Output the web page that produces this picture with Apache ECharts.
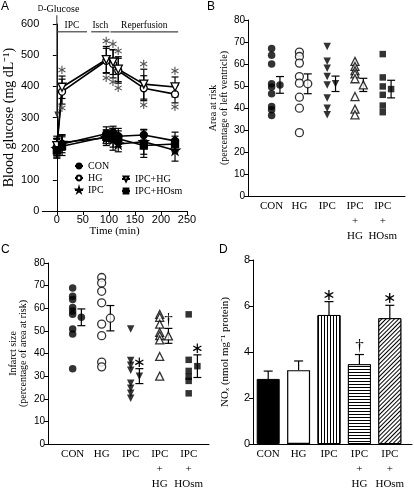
<!DOCTYPE html>
<html><head><meta charset="utf-8">
<script src="https://cdn.jsdelivr.net/npm/echarts@6/dist/echarts.min.js"></script>
<style>html,body{margin:0;padding:0;background:#fff}#c{width:414px;height:492px}</style>
</head><body><div id="c"></div>
<script>
// ---------- Panel A: blood glucose time course ----------
const timesA = [0, 10, 95, 108, 118, 167, 227];
const conA = [205, 215, 248, 252, 240, 244, 225];
const conErrA = [28, 28, 22, 20, 25, 16, 28];
const hgA = [205, 383, 482, 472, 450, 394, 375];
const hgErrA = [28, 40, 40, 45, 40, 40, 28];
const ipcA = [200, 220, 235, 230, 215, 222, 195];
const ipcErrA = [30, 25, 25, 35, 25, 40, 35];
const ipchgA = [210, 397, 486, 478, 455, 407, 398];
const ipchgErrA = [30, 36, 42, 40, 40, 48, 32];
const ipchosmA = [195, 208, 238, 235, 232, 210, 215];
const ipchosmErrA = [25, 30, 22, 30, 25, 38, 25];
const sigA = [false, true, true, true, true, true, true];
const phaseNames = ['IPC', 'Isch', 'Reperfusion'];
const phaseStart = [0, 66, 103];
const phaseEnd = [58, 101, 233];
const phaseLevel = 575;
const glucoseTime = 0;
const glucoseArrow = [628, 300];
const xTicksA = [0, 50, 100, 150, 200, 250];

// ---------- shared categories ----------
const groupNames = ['CON', 'HG', 'IPC', 'IPC+HG', 'IPC+HOsm'];
const catLabels = ['CON', 'HG', 'IPC', 'IPC\n+\nHG', 'IPC\n+\nHOsm'];

// ---------- Panel B: area at risk ----------
const aarCON = [67, 64, 60, 51, 49.5, 46.5, 40.7, 39.2, 36.6];
const aarHG = [65.4, 63.4, 60.4, 54.3, 51.3, 44.9, 39.9, 28.8];
const aarIPC = [68, 61.2, 58.1, 54.3, 50.5, 44.5, 39.9, 36.9];
const aarIPCHG = [61.2, 58.9, 57, 55.5, 53.3, 45.2, 39.5, 36.9];
const aarIPCHOsm = [64.5, 53.9, 49.8, 46, 41.1, 38.1];
const aarMean = [50.5, 51, 51, 50.5, 48.6];
const aarSem = [3.8, 4.5, 3.5, 3, 4];

// ---------- Panel C: infarct size ----------
const isCON = [69, 65.3, 63.9, 60.3, 58.8, 57.3, 50.8, 48.6, 33.3];
const isHG = [73.6, 71.2, 67.5, 62.4, 53, 47.9, 36.2, 34.1];
const isIPC = [50.8, 36.9, 34.8, 32.6, 26.8, 24.6, 22.4, 20.2];
const isIPCHG = [57.3, 56, 53, 49.3, 47.9, 46, 38.7, 30];
const isIPCHOsm = [57.3, 37.2, 32.3, 29.7, 27.9, 22.4];
const isMean = [56, 55.6, 30, 47.8, 34.4];
const isSem = [3.7, 5.6, 3.3, 3.3, 5];
const sigC = ['', '', '*', '†', '*'];

// ---------- Panel D: NOx ----------
const noxMean = [2.83, 3.21, 5.61, 3.47, 5.47];
const noxSem = [0.34, 0.4, 0.58, 0.42, 0.56];
const sigD = ['', '', '*', '†', '*'];

// ---------- styling ----------
const SERIF = '"Liberation Serif", "Times New Roman", serif';
const SANS = '"Liberation Sans", Arial, sans-serif';
const BLK = '#000';
const STAR = 'path://M50,0 L61,35 L98,35 L68,57 L79,91 L50,70 L21,91 L32,57 L2,35 L39,35 Z';
const groupSym = [
  {symbol: 'circle', rot: 0, fill: BLK},
  {symbol: 'circle', rot: 0, fill: '#fff'},
  {symbol: 'triangle', rot: 180, fill: BLK},
  {symbol: 'triangle', rot: 0, fill: '#fff'},
  {symbol: 'rect', rot: 0, fill: BLK}
];
const indPos = i => i + 0.85;
const meanPos = i => i + 1.15;
const barPos = i => i + 0.5;

function errRender(cap, upOnly) {
  return function (params, api) {
    const x = api.value(0), y = api.value(1), e = api.value(2);
    const top = api.coord([x, y + e]);
    const bot = api.coord(upOnly ? [x, y] : [x, y - e]);
    const st = {stroke: BLK, lineWidth: 1.2};
    const ch = [
      {type: 'line', shape: {x1: top[0], y1: top[1], x2: bot[0], y2: bot[1]}, style: st},
      {type: 'line', shape: {x1: top[0] - cap, y1: top[1], x2: top[0] + cap, y2: top[1]}, style: st}
    ];
    if (!upOnly) ch.push({type: 'line', shape: {x1: bot[0] - cap, y1: bot[1], x2: bot[0] + cap, y2: bot[1]}, style: st});
    return {type: 'group', children: ch};
  };
}
function markRenderFactory(color, size, gap) {
  return function (params, api) {
    const p = api.coord([api.value(0), api.value(1)]);
    const dir = api.value(2);
    const sym = api.value(3);
    const isDag = sym === '†';
    return {type: 'text', x: p[0], y: p[1] + dir * (isDag ? 8 : gap), style: {
      text: isDag ? '†' : '∗', fill: color,
      fontFamily: isDag ? SERIF : '"DejaVu Sans", sans-serif',
      fontSize: isDag ? 17 : size, fontWeight: 'normal',
      align: 'center', verticalAlign: 'middle'
    }};
  };
}

const axisLineS = {show: true, lineStyle: {color: BLK, width: 1}};
const tickS = {show: true, length: 4, inside: false, lineStyle: {color: BLK, width: 1}};
const tickLab = {color: BLK, fontFamily: SANS, fontSize: 10, margin: 3};
function yAx(gi, max, interval, name, gap, size, lh, labSize) {
  return {type: 'value', gridIndex: gi, min: 0, max: max, interval: interval,
    axisLine: axisLineS, axisTick: tickS, splitLine: {show: false}, axisLabel: Object.assign({}, tickLab, {fontSize: labSize}),
    name: name, nameLocation: 'middle', nameGap: gap,
    nameTextStyle: {fontFamily: SERIF, fontSize: size, color: BLK, lineHeight: lh}};
}
function catXAx(gi, max, posFn) {
  const vals = groupNames.map((_, i) => posFn(i));
  return {type: 'value', gridIndex: gi, min: 0, max: max,
    axisLine: axisLineS, axisTick: {show: false}, splitLine: {show: false},
    axisLabel: {customValues: vals, color: BLK, fontFamily: SERIF, fontSize: 11, lineHeight: 15, margin: 3,
      formatter: v => { const k = vals.findIndex(u => Math.abs(u - v) < 1e-6); return k >= 0 ? catLabels[k] : ''; }}};
}

// ---------- Panel A series ----------
const aGroups = [
  {name: 'CON', v: conA, e: conErrA, sym: 'circle', rot: 0, fill: BLK, size: 7},
  {name: 'HG', v: hgA, e: hgErrA, sym: 'circle', rot: 0, fill: '#fff', size: 7},
  {name: 'IPC', v: ipcA, e: ipcErrA, sym: STAR, rot: 0, fill: BLK, size: 9},
  {name: 'IPC+HG', v: ipchgA, e: ipchgErrA, sym: 'triangle', rot: 180, fill: '#fff', size: 8},
  {name: 'IPC+HOsm', v: ipchosmA, e: ipchosmErrA, sym: 'rect', rot: 0, fill: BLK, size: 7}
];
const series = [];
const errA = [];
aGroups.forEach(g => timesA.forEach((t, i) => errA.push([t, g.v[i], g.e[i]])));
series.push({type: 'custom', xAxisIndex: 0, yAxisIndex: 0, renderItem: errRender(3.5, false), data: errA, z: 1, encode: {x: 0, y: 1}});
aGroups.forEach(g => {
  series.push({type: 'line', name: g.name, xAxisIndex: 0, yAxisIndex: 0, z: 3,
    data: timesA.map((t, i) => [t, g.v[i]]), symbol: g.sym, symbolRotate: g.rot, symbolSize: g.size, showSymbol: true,
    lineStyle: {color: BLK, width: 1.6}, itemStyle: {color: g.fill, borderColor: BLK, borderWidth: 1.3}});
});
const marksA = [];
timesA.forEach((t, i) => {
  if (!sigA[i]) return;
  marksA.push([t, ipchgA[i] + ipchgErrA[i], -1, '*']);
  marksA.push([t, hgA[i] - hgErrA[i], 1, '*']);
});
series.push({type: 'custom', xAxisIndex: 0, yAxisIndex: 0, renderItem: markRenderFactory('#555', 13, 5), data: marksA, z: 4, encode: {x: 0, y: 1}});
// phases and glucose arrow
series.push({type: 'custom', xAxisIndex: 0, yAxisIndex: 0, z: 4, encode: {x: 0, y: 2},
  data: phaseNames.map((n, i) => [phaseStart[i], phaseEnd[i], phaseLevel, i]),
  renderItem: (params, api) => {
    const a = api.coord([api.value(0), api.value(2)]);
    const b = api.coord([api.value(1), api.value(2)]);
    return {type: 'group', children: [
      {type: 'line', shape: {x1: a[0], y1: a[1], x2: b[0], y2: b[1]}, style: {stroke: '#444', lineWidth: 1.2}},
      {type: 'text', x: (a[0] + b[0]) / 2, y: a[1] - 1, style: {text: phaseNames[api.value(3)], fill: BLK, fontFamily: SERIF, fontSize: 9.5, align: 'center', verticalAlign: 'bottom'}}
    ]};
  }});
series.push({type: 'custom', xAxisIndex: 0, yAxisIndex: 0, z: 4, encode: {x: 0, y: 1},
  data: [[glucoseTime, glucoseArrow[0], glucoseArrow[1]]],
  renderItem: (params, api) => {
    const a = api.coord([api.value(0), api.value(1)]);
    const b = api.coord([api.value(0), api.value(2)]);
    return {type: 'group', children: [
      {type: 'line', shape: {x1: a[0], y1: a[1], x2: b[0], y2: b[1] - 5}, style: {stroke: '#333', lineWidth: 1}},
      {type: 'polygon', shape: {points: [[b[0] - 2.5, b[1] - 6], [b[0] + 2.5, b[1] - 6], [b[0], b[1]]]}, style: {fill: '#333'}},
      {type: 'text', x: a[0] - 19, y: a[1] - 1, style: {rich: {s: {fontSize: 7.5, fontFamily: SERIF, fill: BLK}, n: {fontSize: 10, fontFamily: SERIF, fill: BLK}}, text: '{s|D}{n|-Glucose}', align: 'left', verticalAlign: 'bottom'}}
    ]};
  }});

// ---------- Panels B and C ----------
function dotPanel(ax, groups, means, sems, sigs) {
  groups.forEach((vals, g) => {
    const s = groupSym[g];
    const sz = g === 4 ? 6.5 : (g === 1 || g === 3 ? 8 : 7.5);
    const st = {color: s.fill, borderColor: BLK, borderWidth: s.fill === '#fff' ? 1.3 : 0};
    series.push({type: 'scatter', xAxisIndex: ax, yAxisIndex: ax, symbol: s.symbol, symbolRotate: s.rot, symbolSize: sz, itemStyle: st, z: 3,
      data: vals.map(v => [indPos(g), v])});
    series.push({type: 'scatter', xAxisIndex: ax, yAxisIndex: ax, symbol: s.symbol, symbolRotate: s.rot, symbolSize: sz, itemStyle: st, z: 3,
      data: [[meanPos(g), means[g]]]});
  });
  series.push({type: 'custom', xAxisIndex: ax, yAxisIndex: ax, renderItem: errRender(4, false), z: 2, encode: {x: 0, y: 1},
    data: means.map((m, g) => [meanPos(g), m, sems[g]])});
  if (sigs) {
    const mk = [];
    sigs.forEach((s, g) => { if (s) mk.push([meanPos(g), means[g] + sems[g], -1, s]); });
    series.push({type: 'custom', xAxisIndex: ax, yAxisIndex: ax, renderItem: markRenderFactory(BLK, 15, 6), z: 4, encode: {x: 0, y: 1}, data: mk});
  }
}
dotPanel(1, [aarCON, aarHG, aarIPC, aarIPCHG, aarIPCHOsm], aarMean, aarSem, null);
dotPanel(2, [isCON, isHG, isIPC, isIPCHG, isIPCHOsm], isMean, isSem, sigC);

// ---------- Panel D ----------
const vStripe = {symbol: 'rect', symbolSize: 1, color: BLK, backgroundColor: '#fff', dashArrayX: [1, 2], dashArrayY: [4, 0], rotation: 0};
const barStyles = [
  {color: BLK, borderColor: BLK, borderWidth: 1},
  {color: '#fff', borderColor: BLK, borderWidth: 1.2},
  {color: '#fff', borderColor: BLK, borderWidth: 1, decal: Object.assign({}, vStripe)},
  {color: '#fff', borderColor: BLK, borderWidth: 1, decal: {symbol: 'rect', symbolSize: 1, color: BLK, backgroundColor: '#fff', dashArrayX: [4, 0], dashArrayY: [1, 2], rotation: 0}},
  {color: '#fff', borderColor: BLK, borderWidth: 1, decal: Object.assign({}, vStripe, {rotation: Math.PI / 4})}
];
series.push({type: 'custom', xAxisIndex: 3, yAxisIndex: 3, renderItem: errRender(4.5, true), z: 1, encode: {x: 0, y: 1},
  data: noxMean.map((m, g) => [barPos(g), m, noxSem[g]])});
series.push({type: 'bar', xAxisIndex: 3, yAxisIndex: 3, barWidth: 23, z: 2,
  data: noxMean.map((m, g) => ({value: [barPos(g), m], itemStyle: barStyles[g]}))});
const mkD = [];
sigD.forEach((s, g) => { if (s) mkD.push([barPos(g), noxMean[g] + noxSem[g], -1, s]); });
series.push({type: 'custom', xAxisIndex: 3, yAxisIndex: 3, renderItem: markRenderFactory(BLK, 16, 6), z: 4, encode: {x: 0, y: 1}, data: mkD});

const legText = {fontFamily: SERIF, fontSize: 10, color: BLK};
const option = {
  animation: false,
  backgroundColor: '#fff',
  textStyle: {fontFamily: SANS},
  graphic: [
    {type: 'text', left: 1, top: 1, style: {text: 'A', fontFamily: SANS, fontSize: 12, fill: BLK}},
    {type: 'text', left: 207, top: 1, style: {text: 'B', fontFamily: SANS, fontSize: 12, fill: BLK}},
    {type: 'text', left: 1, top: 244, style: {text: 'C', fontFamily: SANS, fontSize: 12, fill: BLK}},
    {type: 'text', left: 219, top: 244, style: {text: 'D', fontFamily: SANS, fontSize: 12, fill: BLK}}
  ],
  legend: [
    {left: 74, top: 161, orient: 'vertical', itemGap: 2, itemWidth: 8, itemHeight: 6, padding: 0, data: ['CON', 'HG', 'IPC'], textStyle: legText},
    {left: 121, top: 174, orient: 'vertical', itemGap: 2, itemWidth: 8, itemHeight: 6, padding: 0, data: ['IPC+HG', 'IPC+HOsm'], textStyle: legText}
  ],
  grid: [
    {left: 39, top: 24, width: 148, height: 187},
    {left: 248, top: 20, width: 157, height: 176},
    {left: 48, top: 263, width: 161, height: 183},
    {left: 253, top: 260, width: 159, height: 187}
  ],
  xAxis: [
    {type: 'value', gridIndex: 0, min: -28, max: 250, axisLine: axisLineS,
      axisTick: Object.assign({}, tickS, {customValues: xTicksA}), splitLine: {show: false},
      axisLabel: Object.assign({}, tickLab, {customValues: xTicksA, fontSize: 11}),
      name: 'Time (min)', nameLocation: 'middle', nameGap: 15, nameTextStyle: {fontFamily: SERIF, fontSize: 11, color: BLK}},
    catXAx(1, 5.65, indPos),
    catXAx(2, 5.55, indPos),
    catXAx(3, 5.23, barPos)
  ],
  yAxis: [
    yAx(0, 600, 100, 'Blood glucose (mg dL⁻¹)', 22, 14, 16, 11),
    yAx(1, 80, 10, 'Area at risk\n(percentage of left ventricle)', 16, 10, 11, 10),
    yAx(2, 80, 10, 'Infarct size\n(percentage of area at risk)', 20, 10, 10, 10),
    yAx(3, 8, 2, 'NOₓ (nmol mg⁻¹ protein)', 22, 11, 12, 11)
  ],
  series: series
};
const chart = echarts.init(document.getElementById('c'), null, {renderer: 'canvas', width: 414, height: 492});
chart.setOption(option);
</script>
</body></html>
